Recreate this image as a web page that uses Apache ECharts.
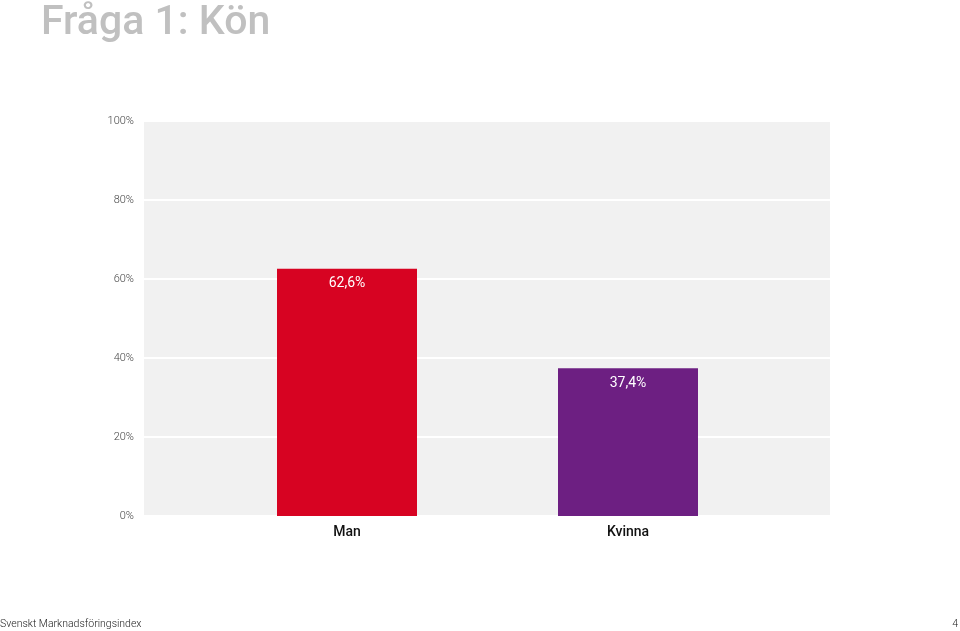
<!DOCTYPE html>
<html><head><meta charset="utf-8">
<script src="https://cdn.jsdelivr.net/npm/echarts@6/dist/echarts.min.js"></script>
<style>html,body{margin:0;padding:0;background:#fff}#c{width:960px;height:631px}</style>
</head><body><div id="c"></div>
<script>
const categories = ['Man', 'Kvinna'];
const values = [62.6, 37.4];
const barColors = ['#d70322', '#6d1f82'];
const yTicks = [0, 20, 40, 60, 80, 100];

const chart = echarts.init(document.getElementById('c'));
chart.setOption({
  backgroundColor: '#fff',
  animation: false,
  title: [
    { text: 'Fråga 1: Kön', left: 41, top: 3, padding: 0,
      textStyle: { fontFamily: 'Roboto', fontSize: 41, fontWeight: 500, color: '#c0c0c0' } },
    { text: 'Svenskt Marknadsföringsindex', left: 0, top: 619, padding: 0,
      textStyle: { fontFamily: 'Roboto', fontSize: 10.5, fontWeight: 300, color: '#222' } },
    { text: '4', right: 2, top: 619, padding: 0,
      textStyle: { fontFamily: 'Roboto', fontSize: 10.5, fontWeight: 300, color: '#222' } }
  ],
  grid: [
    { left: 144, right: 130, top: 121, bottom: 115, show: true, backgroundColor: '#f1f1f1', borderWidth: 0 },
    { left: 206.5, width: 562, top: 121, bottom: 115 }
  ],
  xAxis: [
    { gridIndex: 0, type: 'category', data: categories, show: false },
    { gridIndex: 1, type: 'category', data: categories,
      axisLine: { show: false }, axisTick: { show: false },
      axisLabel: { margin: 9, fontFamily: 'Roboto', fontSize: 14, fontWeight: 500, color: '#111' } }
  ],
  yAxis: [
    { gridIndex: 0, type: 'value', min: 0, max: 100, interval: 20,
      axisLine: { show: false }, axisTick: { show: false },
      splitLine: { lineStyle: { color: '#ffffff', width: 2 } },
      axisLabel: { margin: 10, fontFamily: 'Roboto', fontSize: 11, fontWeight: 300, color: '#444',
        formatter: v => yTicks.includes(v) ? v + '%' : '' } },
    { gridIndex: 1, type: 'value', min: 0, max: 100, show: false }
  ],
  series: [{
    type: 'bar', xAxisIndex: 1, yAxisIndex: 1,
    barWidth: 140,
    data: values.map((v, i) => ({ value: v, itemStyle: { color: barColors[i] } })),
    label: { show: true, position: 'insideTop', distance: 8, color: '#fff',
      fontFamily: 'Roboto', fontSize: 14, fontWeight: 400,
      formatter: p => p.value.toFixed(1).replace('.', ',') + '%' }
  }]
});
</script></body></html>
